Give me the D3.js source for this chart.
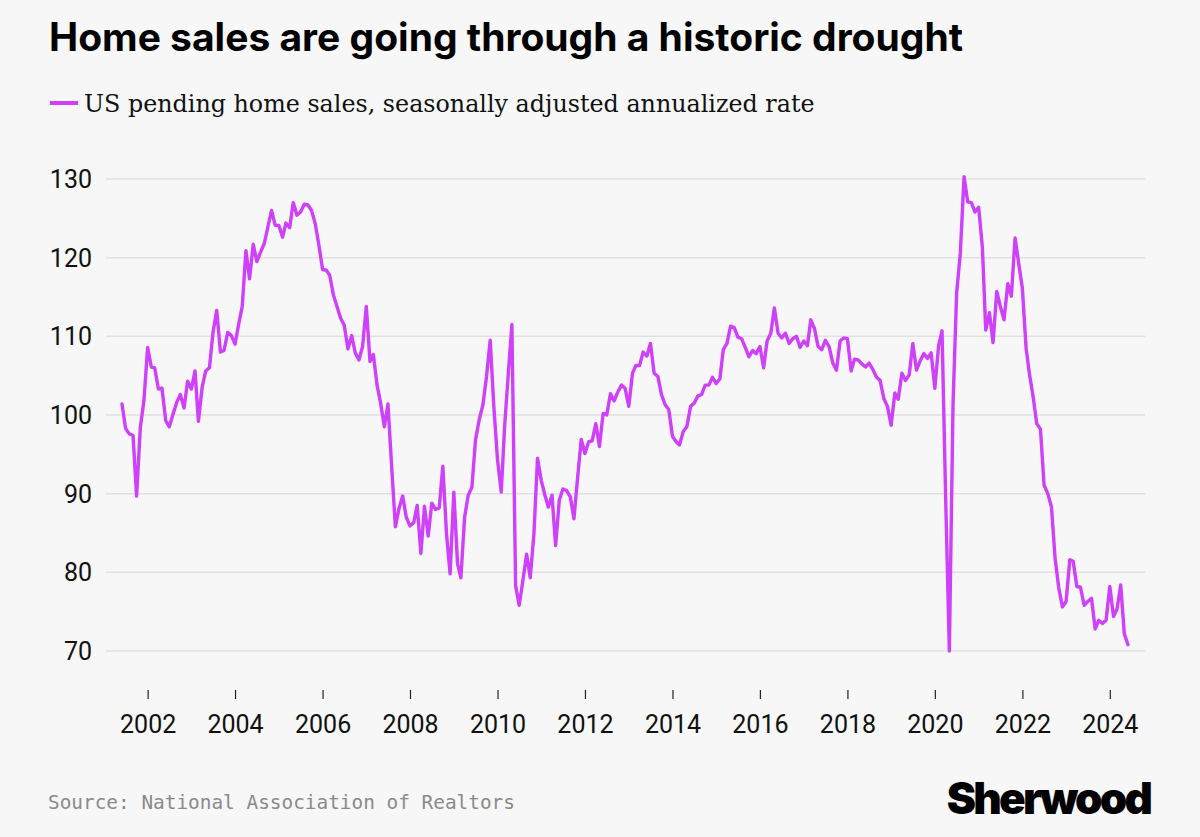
<!DOCTYPE html>
<html lang="en">
<head>
  <meta charset="UTF-8">
  <title>Home sales are going through a historic drought</title>
  <script src="https://d3js.org/d3.v7.min.js"></script>
  <style>
    body { margin: 0; background: #f7f7f7; }
    svg { display: block; }
    .title { font-family: Inter, Roboto, sans-serif; font-weight: 700; fill: #000; }
    .legend-label { font-family: "DejaVu Serif", "Liberation Serif", serif; fill: #111; }
    .axis text { font-family: Roboto, "Noto Sans", sans-serif; fill: #111; }
    .source { font-family: "DejaVu Sans Mono", "Liberation Mono", monospace; fill: #8a8a8a; }
    .logo { font-family: Inter, Roboto, sans-serif; font-weight: 900; fill: #000; }
  </style>
</head>
<body>
  <div id="chart"></div>

  <script>
    const width = 1200;
    const height = 837;

    // US pending home sales index, monthly, first value = June 2001
    const startMonth = "2001-06";
    const sales = [
      101.4, 98.3, 97.6, 97.4, 89.7, 98.4, 101.8, 108.6, 106.1, 106.0,
      103.3, 103.4, 99.3, 98.5, 100.1, 101.6, 102.6, 100.9, 104.3, 103.3,
      105.6, 99.2, 103.5, 105.6, 106.0, 110.5, 113.3, 108.0, 108.2, 110.5,
      110.1, 109.0, 111.6, 113.8, 120.9, 117.3, 121.7, 119.5, 120.7, 121.8,
      123.9, 126.0, 124.1, 124.1, 122.6, 124.4, 123.8, 127.0, 125.4, 125.8,
      126.8, 126.7, 126.0, 124.3, 121.6, 118.5, 118.4, 117.8, 115.3, 113.8,
      112.3, 111.4, 108.4, 110.1, 107.9, 107.0, 108.7, 113.8, 106.8, 107.7,
      103.8, 101.5, 98.5, 101.4, 93.4, 85.8, 88.1, 89.7, 87.0, 85.9,
      86.3, 88.5, 82.4, 88.4, 84.6, 88.8, 88.0, 88.2, 93.5, 84.9,
      79.8, 90.2, 81.1, 79.3, 87.0, 89.8, 90.8, 96.8, 99.4, 101.3,
      104.9, 109.5, 101.1, 94.3, 90.2, 98.5, 105.3, 111.5, 78.3, 75.8,
      79.0, 82.3, 79.3, 84.9, 94.5, 91.7, 89.8, 88.3, 89.8, 83.4,
      89.2, 90.6, 90.4, 89.6, 86.8, 92.1, 96.9, 95.1, 96.6, 96.7,
      98.9, 96.0, 100.2, 100.0, 102.7, 101.8, 102.9, 103.8, 103.4, 101.1,
      105.3, 106.3, 106.3, 108.0, 107.5, 109.1, 105.3, 104.9, 102.6, 101.3,
      100.7, 97.3, 96.6, 96.2, 97.9, 98.5, 101.1, 101.5, 102.4, 102.6,
      103.8, 103.8, 104.8, 104.0, 104.6, 108.3, 109.1, 111.3, 111.1, 109.9,
      109.7, 108.6, 107.4, 108.2, 107.8, 108.7, 106.0, 109.4, 110.4, 113.6,
      110.4, 109.8, 110.4, 109.1, 109.7, 110.0, 108.6, 109.4, 108.8, 112.1,
      111.0, 108.7, 108.3, 109.5, 108.7, 106.6, 105.7, 109.4, 109.8, 109.7,
      105.6, 107.1, 107.0, 106.5, 106.1, 106.6, 105.8, 104.8, 104.4, 102.1,
      101.1, 98.7, 102.8, 102.0, 105.3, 104.4, 105.1, 109.1, 105.7, 106.9,
      107.8, 107.2, 107.9, 103.4, 108.8, 110.7, 89.0, 70.0, 101.5, 115.5,
      120.6, 130.3, 127.1, 127.0, 125.8, 126.4, 121.3, 110.8, 113.0, 109.2,
      115.7, 113.8, 112.1, 116.7, 115.1, 122.5, 119.3, 116.1, 108.5, 105.2,
      102.3, 98.9, 98.2, 91.1, 90.0, 88.3, 81.8, 78.0, 75.6, 76.3,
      81.6, 81.4, 78.2, 78.1, 75.8, 76.3, 76.7, 72.8, 73.9, 73.5,
      73.9, 78.2, 74.4, 75.3, 78.4, 72.2, 70.8
    ];
    const yTicks = [70, 80, 90, 100, 110, 120, 130];
    const xTickYears = [2002, 2004, 2006, 2008, 2010, 2012, 2014, 2016, 2018, 2020, 2022, 2024];

    const title = "Home sales are going through a historic drought";
    const seriesLabel = "US pending home sales, seasonally adjusted annualized rate";
    const sourceNote = "Source: National Association of Realtors";
    const lineColor = "#cf40fa";

    const start = d3.utcParse("%Y-%m")(startMonth);
    const data = sales.map((v, i) => ({ date: d3.utcMonth.offset(start, i), value: v }));

    const svg = d3.select("#chart")
      .append("svg")
      .attr("width", width)
      .attr("height", height);

    svg.append("rect")
      .attr("width", width)
      .attr("height", height)
      .attr("fill", "#f7f7f7");

    const x = d3.scaleUtc()
      .domain(d3.extent(data, d => d.date))
      .range([122, 1128]);

    const y = d3.scaleLinear()
      .domain([70, 130])
      .range([651, 179]);

    // title + legend
    svg.append("text")
      .attr("class", "title")
      .attr("x", 49)
      .attr("y", 51)
      .attr("font-size", 39)
      .text(title);

    svg.append("line")
      .attr("x1", 50).attr("x2", 78)
      .attr("y1", 103).attr("y2", 103)
      .attr("stroke", lineColor)
      .attr("stroke-width", 4);

    svg.append("text")
      .attr("class", "legend-label")
      .attr("x", 84)
      .attr("y", 112)
      .attr("font-size", 23.8)
      .text(seriesLabel);

    // y gridlines and labels
    const yAxis = svg.append("g").attr("class", "axis");
    yAxis.selectAll("line")
      .data(yTicks)
      .enter()
      .append("line")
      .attr("x1", 106).attr("x2", 1145)
      .attr("y1", d => y(d)).attr("y2", d => y(d))
      .attr("stroke", "#e1e1e1")
      .attr("stroke-width", 1.5);

    yAxis.selectAll("text")
      .data(yTicks)
      .enter()
      .append("text")
      .attr("x", 92)
      .attr("y", d => y(d))
      .attr("dy", "0.36em")
      .attr("text-anchor", "end")
      .attr("font-size", 25)
      .text(d => d);

    // x axis: tick marks + year labels
    const xAxis = d3.axisBottom(x)
      .tickValues(xTickYears.map(yr => new Date(Date.UTC(yr, 0, 1))))
      .tickFormat(d3.utcFormat("%Y"))
      .tickSize(9)
      .tickPadding(16);

    const gx = svg.append("g")
      .attr("class", "axis")
      .attr("transform", "translate(0,690)")
      .call(xAxis);
    gx.select(".domain").remove();
    gx.selectAll(".tick line").attr("stroke", "#222").attr("stroke-width", 1.2);
    gx.selectAll(".tick text").attr("font-size", 25).attr("fill", "#111");

    // the series
    const line = d3.line()
      .x(d => x(d.date))
      .y(d => y(d.value));

    svg.append("path")
      .datum(data)
      .attr("fill", "none")
      .attr("stroke", lineColor)
      .attr("stroke-width", 3.4)
      .attr("stroke-linejoin", "round")
      .attr("stroke-linecap", "round")
      .attr("d", line);

    // footer
    svg.append("text")
      .attr("class", "source")
      .attr("x", 48)
      .attr("y", 809)
      .attr("font-size", 19.4)
      .text(sourceNote);

    svg.append("text")
      .attr("class", "logo")
      .attr("x", 1150)
      .attr("y", 814)
      .attr("text-anchor", "end")
      .attr("font-size", 44)
      .attr("letter-spacing", -2.8)
      .text("Sherwood");
  </script>
</body>
</html>
